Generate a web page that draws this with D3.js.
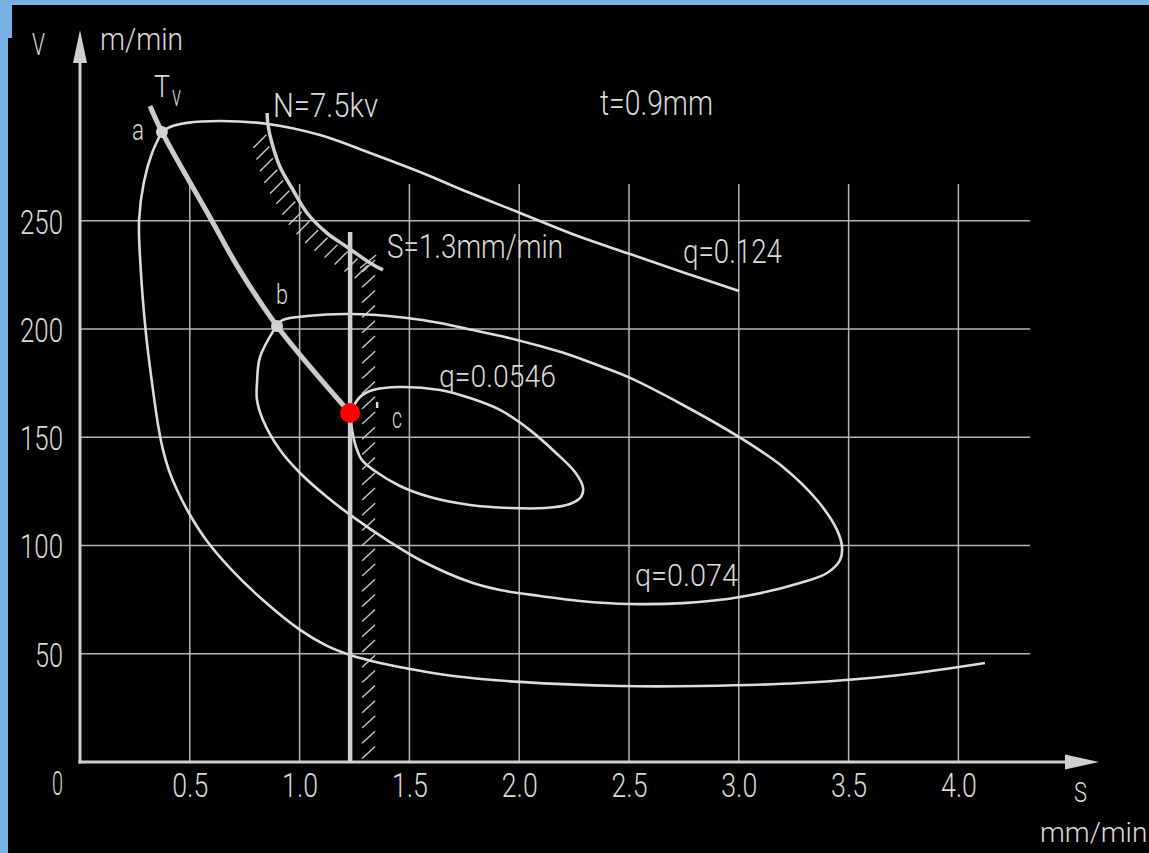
<!DOCTYPE html>
<html><head><meta charset="utf-8">
<script src="https://cdn.jsdelivr.net/npm/d3@7"></script>
<style>html,body{margin:0;padding:0;background:#78b1e3;overflow:hidden} svg{display:block}</style>
</head><body><svg id="c" width="1149" height="853"></svg>
<script>
// ---- data (S in mm/min, V in m/min) ----
const sTicks = [0.5, 1.0, 1.5, 2.0, 2.5, 3.0, 3.5, 4.0];
const vTicks = [50, 100, 150, 200, 250];

const tvLine = [[0.319,303.0],[0.373,291.0],[0.601,249.9],[0.719,228.6],[0.897,201.4],[1.230,161.2]];
const pointNames = ["a", "b", "c"];
const pointS = [0.373, 0.897, 1.230];
const pointV = [291.0, 201.4, 161.2];

// q = 0.124 : upper branch (right end -> a) and lower branch (a -> right end)
const q124Upper = [[3.001,217.6],[2.755,225.9],[2.505,234.6],[2.254,243.4],[2.004,253.6],[1.776,262.8],
  [1.548,272.5],[1.321,281.3],[1.093,289.6],[0.856,294.7],[0.638,296.1],[0.487,295.2],[0.410,293.3],[0.373,291.0]];
const q124Lower = [[0.373,291.0],[0.328,281.3],[0.291,267.9],[0.269,250.3],[0.276,228.6],[0.300,198.2],
  [0.328,175.1],[0.355,156.0],[0.376,145.0],[0.404,135.0],[0.442,125.6],[0.501,114.1],[0.578,102.1],
  [0.683,89.6],[0.833,74.8],[1.002,61.0],[1.125,53.6],[1.230,49.4],[1.366,45.7],[1.503,43.0],
  [1.699,39.7],[2.004,37.0],[2.459,35.1],[2.823,35.1],[3.279,36.5],[3.734,40.2],[4.121,45.7]];

const q074 = [[0.897,201.8],[0.924,204.2],[1.034,206.0],[1.230,206.9],[1.489,205.1],[1.639,202.8],
  [1.790,199.5],[1.935,196.3],[2.095,192.1],[2.218,188.5],[2.368,182.9],[2.505,177.4],[2.746,164.9],
  [3.001,150.1],[3.201,136.3],[3.356,121.0],[3.447,107.2],[3.470,99.3],[3.461,93.3],[3.402,87.3],
  [3.279,82.7],[3.005,76.2],[2.746,73.4],[2.505,73.0],[2.277,74.4],[2.095,76.7],[1.913,79.4],
  [1.776,83.1],[1.548,93.3],[1.398,102.5],[1.243,113.2],[1.125,122.4],[1.002,133.5],[0.911,144.1],
  [0.833,158.0],[0.806,167.2],[0.806,175.1],[0.820,187.1],[0.897,201.8]];

const q0546 = [[1.230,161.2],[1.275,168.6],[1.334,171.8],[1.457,173.2],[1.639,171.8],[1.776,168.1],
  [1.913,162.6],[2.049,153.3],[2.163,143.2],[2.254,133.9],[2.291,126.6],[2.281,122.4],[2.231,119.2],
  [2.117,117.3],[1.958,117.3],[1.776,118.7],[1.594,122.4],[1.457,127.5],[1.343,134.4],[1.284,139.5],
  [1.257,145.5],[1.239,153.3],[1.230,161.2]];

const nLimit = [[0.852,299.8],[0.856,294.2],[0.874,285.9],[0.911,274.8],[0.970,264.2],[1.034,253.6],
  [1.125,244.3],[1.216,237.9],[1.321,230.5],[1.380,227.3]];

const sLimitS = 1.23;
const sLimitV = [0, 244.8];

const curveLabels = ["q=0.124", "q=0.074", "q=0.0546"];
const textLabels = ["t=0.9mm", "N=7.5kv", "S=1.3mm/min", "T", "v"];
const axisLabels = ["V", "m/min", "S", "mm/min", "0"];

// ---- drawing ----
const svg = d3.select("#c");
const W = 1149, H = 853;
const x = d3.scaleLinear().domain([0, 4]).range([80, 958.4]);
const y = d3.scaleLinear().domain([0, 250]).range([762, 220.75]);
const FONT = "Roboto, 'Liberation Sans Narrow', 'DejaVu Sans Condensed', sans-serif";
const TXT = "#d9d9d9";

svg.append("rect").attr("width", W).attr("height", H).attr("fill", "#78b1e3");
svg.append("rect").attr("x", 12).attr("y", 5).attr("width", W).attr("height", H).attr("fill", "#000");
svg.append("rect").attr("x", 8).attr("y", 38).attr("width", W).attr("height", H).attr("fill", "#000");

// grid
const gridTop = 184;
svg.append("g").selectAll("line").data(vTicks).join("line")
  .attr("x1", x(0)).attr("x2", 1030).attr("y1", d => y(d)).attr("y2", d => y(d))
  .attr("stroke", "#b4b4b4").attr("stroke-width", 1.5);
svg.append("g").selectAll("line").data(sTicks).join("line")
  .attr("x1", d => x(d)).attr("x2", d => x(d)).attr("y1", gridTop).attr("y2", y(0))
  .attr("stroke", "#b4b4b4").attr("stroke-width", 1.5);

// axes tick labels via d3 axes
const yAx = svg.append("g").attr("transform", `translate(${x(0)},0)`)
  .call(d3.axisLeft(y).tickValues(vTicks).tickSize(0).tickPadding(17));
yAx.select(".domain").remove();
yAx.selectAll("text").attr("font-family", FONT).attr("font-weight", 300).attr("font-size", 34)
  .attr("fill", TXT).attr("dy", "0.36em")
  .attr("textLength", d => String(d).length === 3 ? 43 : 28).attr("lengthAdjust", "spacingAndGlyphs");

const xAx = svg.append("g").attr("transform", `translate(0,${y(0)})`)
  .call(d3.axisBottom(x).tickValues(sTicks).tickSize(0).tickPadding(11).tickFormat(d3.format(".1f")));
xAx.select(".domain").remove();
xAx.selectAll("text").attr("font-family", FONT).attr("font-weight", 300).attr("font-size", 34)
  .attr("fill", TXT).attr("textLength", 36).attr("lengthAdjust", "spacingAndGlyphs");

// axis lines + arrows
const AX = "#cfcfcf";
svg.append("line").attr("x1", x(0)).attr("x2", x(0)).attr("y1", y(0) + 1.5).attr("y2", 60)
  .attr("stroke", AX).attr("stroke-width", 3);
svg.append("path").attr("d", `M${x(0)},30 L${x(0) - 7},63 L${x(0) + 7},63 Z`).attr("fill", AX);
svg.append("line").attr("x1", x(0) - 1.5).attr("x2", 1068).attr("y1", y(0)).attr("y2", y(0))
  .attr("stroke", AX).attr("stroke-width", 3);
svg.append("path").attr("d", `M1099,${y(0)} L1065,${y(0) - 7.5} L1065,${y(0) + 7.5} Z`).attr("fill", AX);

const line = d3.line().x(d => x(d[0])).y(d => y(d[1])).curve(d3.curveCatmullRom.alpha(0.5));
const CUR = "#dcdcdc";

// S limit hatch
const sx = x(sLimitS);
const hatchS = d3.range(272, 762, 15.2);
svg.append("g").selectAll("line").data(hatchS).join("line")
  .attr("x1", sx + 12).attr("y1", d => d).attr("x2", sx + 25).attr("y2", d => d - 12)
  .attr("stroke", "#c8c8c8").attr("stroke-width", 1.4);
svg.append("line").attr("x1", sx + 10).attr("y1", 268).attr("x2", sx + 26).attr("y2", 255)
  .attr("stroke", "#c8c8c8").attr("stroke-width", 1.4);

// curves
[q124Upper, q124Lower, q074, q0546].forEach(c => {
  svg.append("path").attr("d", line(c)).attr("fill", "none").attr("stroke", CUR).attr("stroke-width", 2.6);
});

// N limit curve + hatch
const nPath = svg.append("path").attr("d", line(nLimit)).attr("fill", "none")
  .attr("stroke", "#cfcfcf").attr("stroke-width", 3.5);
const nNode = nPath.node();
const nLen = nNode.getTotalLength();
const hatchN = d3.range(20, nLen - 8, 12.2).map(l => nNode.getPointAtLength(l));
svg.append("g").selectAll("line").data(hatchN).join("line")
  .attr("x1", d => d.x - 3).attr("y1", d => d.y + 2).attr("x2", d => d.x - 16).attr("y2", d => d.y + 15)
  .attr("stroke", "#c8c8c8").attr("stroke-width", 1.4);

// S limit vertical line
svg.append("line").attr("x1", sx).attr("x2", sx).attr("y1", y(sLimitV[1])).attr("y2", y(sLimitV[0]))
  .attr("stroke", "#cfcfcf").attr("stroke-width", 4.5);

// Tv line
svg.append("path").attr("d", line(tvLine)).attr("fill", "none").attr("stroke", "#cbcbcb")
  .attr("stroke-width", 5).attr("stroke-linecap", "butt");

// small tick near c
svg.append("line").attr("x1", sx + 27).attr("x2", sx + 27).attr("y1", 402).attr("y2", 408)
  .attr("stroke", "#ddd").attr("stroke-width", 2.5);

// points
svg.append("g").selectAll("circle").data(pointNames).join("circle")
  .attr("cx", (d, i) => x(pointS[i])).attr("cy", (d, i) => y(pointV[i]))
  .attr("r", (d, i) => d === "c" ? 10 : 6)
  .attr("fill", d => d === "c" ? "#ff0000" : "#d2d2d2");

// labels
function label(t, lx, yb, w, fs) {
  const el = svg.append("text").attr("x", lx).attr("y", yb).text(t)
    .attr("font-family", FONT).attr("font-weight", 300).attr("font-size", fs).attr("fill", TXT);
  if (w) el.attr("textLength", w).attr("lengthAdjust", "spacingAndGlyphs");
}
label(axisLabels[0], 32, 55, 13, 31);
label(axisLabels[1], 100, 50, 83, 32);
label(axisLabels[2], 1074, 802, 13, 28);
label(axisLabels[3], 1040, 842, null, 28);
label(axisLabels[4], 52, 795, 11, 33);
label(textLabels[3], 154, 97, 16, 32);
label(textLabels[4], 172, 106, 9, 30);
label(textLabels[0], 600, 115, 113, 35);
label(textLabels[1], 273, 117, 105, 33);
label(textLabels[2], 387, 258, 176, 34);
label(curveLabels[0], 683, 263, 99, 33);
label(curveLabels[1], 635, 586, 103, 32);
label(curveLabels[2], 439, 387, 117, 32);
label(pointNames[0], 132, 140, 12, 30);
label(pointNames[1], 276, 304, 12, 27);
label(pointNames[2], 392, 428, 10, 30);
</script></body></html>
